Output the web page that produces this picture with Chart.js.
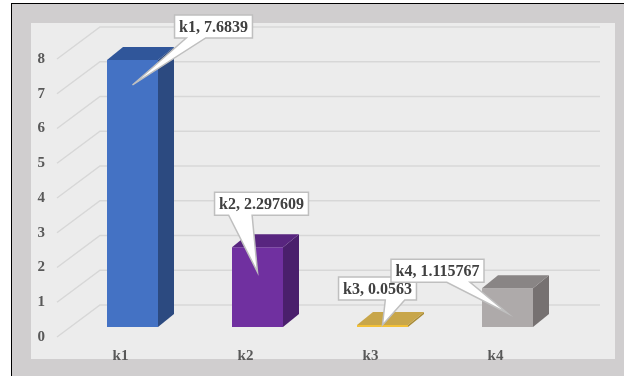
<!DOCTYPE html>
<html>
<head>
<meta charset="utf-8">
<script src="https://cdn.jsdelivr.net/npm/chart.js@4/dist/chart.umd.min.js"></script>
<style>
  html, body { margin: 0; padding: 0; background: #ffffff; }
  #wrap { position: relative; width: 624px; height: 376px; overflow: hidden; }
  #frame { position: absolute; left: 11px; top: 3px; right: 0; bottom: 0;
           background: #d0cecf; border-top: 1px solid #000; border-left: 1px solid #000; }
  #panel { position: absolute; left: 31px; top: 23px; width: 584px; height: 336px; background: #ececec; }
  #chart { position: absolute; left: 0; top: 0; }
</style>
</head>
<body>
<div id="wrap">
  <div id="frame"></div>
  <div id="panel"></div>
  <canvas id="chart" width="624" height="376"></canvas>
</div>
<script>
var categories = ["k1", "k2", "k3", "k4"];
var values = [7.6839, 2.297609, 0.0563, 1.115767];
var yMin = 0, yMax = 8, yStep = 1;

// face colours per bar: front / right side / top
var frontColors = ["#4472c4", "#7030a0", "#f2c037", "#aeaaaa"];
var sideColors  = ["#2c4a80", "#4a1f6c", "#a88a34", "#767171"];
var topColors   = ["#30569a", "#58257f", "#c8a64a", "#898585"];

// callout box placement relative to its pointer tip (box centre x, box bottom y)
var calloutShift = [[81, -47], [4, -57], [-5, -25], [-70, -31]];

var DEPTH_X = 16, DEPTH_Y = 13;      // bar extrusion
var WALL_DX = 0, WALL_DY = -22;      // back wall relative to bar fronts
var FLOOR_DX = -43, FLOOR_DY = 10;   // front floor edge relative to bar fronts
var WALL_LEFT = 100, WALL_RIGHT = 600;

var axisFont = { family: "'Liberation Serif', 'Times New Roman', serif", size: 15, weight: "bold" };

// back wall gridlines plus the diagonal floor/side lines
var wallPlugin = {
  id: "wall3d",
  beforeDatasetsDraw: function (chart) {
    var ctx = chart.ctx, y = chart.scales.y;
    ctx.save();
    ctx.strokeStyle = "#d7d7d7";
    ctx.lineWidth = 1.5;
    y.ticks.forEach(function (t) {
      var py = y.getPixelForValue(t.value) + WALL_DY;
      ctx.beginPath();
      ctx.moveTo(WALL_LEFT + FLOOR_DX, py - WALL_DY + FLOOR_DY);
      ctx.lineTo(WALL_LEFT, py);
      ctx.lineTo(WALL_RIGHT, py);
      ctx.stroke();
    });
    ctx.restore();
  }
};

// side and top faces of each bar
var barsPlugin = {
  id: "bars3d",
  afterDatasetsDraw: function (chart) {
    var ctx = chart.ctx;
    var meta = chart.getDatasetMeta(0);
    ctx.save();
    meta.data.forEach(function (bar, i) {
      var l = bar.x - bar.width / 2, r = bar.x + bar.width / 2;
      var top = bar.y, bot = bar.base;
      ctx.fillStyle = sideColors[i];
      ctx.beginPath();
      ctx.moveTo(r, top);
      ctx.lineTo(r + DEPTH_X, top - DEPTH_Y);
      ctx.lineTo(r + DEPTH_X, bot - DEPTH_Y);
      ctx.lineTo(r, bot);
      ctx.closePath();
      ctx.fill();
      ctx.fillStyle = topColors[i];
      ctx.beginPath();
      ctx.moveTo(l, top);
      ctx.lineTo(l + DEPTH_X, top - DEPTH_Y);
      ctx.lineTo(r + DEPTH_X, top - DEPTH_Y);
      ctx.lineTo(r, top);
      ctx.closePath();
      ctx.fill();
    });
    ctx.restore();
  }
};

// white callout labels "kN, value" with a wedge pointing into the bar
var calloutPlugin = {
  id: "callouts",
  afterDatasetsDraw: function (chart) {
    var ctx = chart.ctx;
    var meta = chart.getDatasetMeta(0);
    ctx.save();
    ctx.font = "bold 16px 'Liberation Serif', 'Times New Roman', serif";
    ctx.textAlign = "center";
    ctx.textBaseline = "middle";
    meta.data.forEach(function (bar, i) {
      var text = categories[i] + ", " + values[i];
      var tipX = bar.x;
      var tipY = Math.min(bar.y + 25, bar.base - 2);
      var w = ctx.measureText(text).width + 9, h = 23;
      var cx = tipX + calloutShift[i][0];
      var bottom = tipY + calloutShift[i][1];
      var left = cx - w / 2, right = cx + w / 2, top = bottom - h;
      var f1, f2;
      if (tipX < cx) { f1 = 0.15; f2 = 0.4; } else { f1 = 0.6; f2 = 0.85; }
      ctx.beginPath();
      ctx.moveTo(left, top);
      ctx.lineTo(right, top);
      ctx.lineTo(right, bottom);
      ctx.lineTo(left + w * f2, bottom);
      ctx.lineTo(tipX, tipY);
      ctx.lineTo(left + w * f1, bottom);
      ctx.lineTo(left, bottom);
      ctx.closePath();
      ctx.fillStyle = "#ffffff";
      ctx.fill();
      ctx.strokeStyle = "#bfbfbf";
      ctx.lineWidth = 1.5;
      ctx.stroke();
      ctx.fillStyle = "#404040";
      ctx.fillText(text, cx, top + h / 2 + 1);
    });
    ctx.restore();
  }
};

new Chart(document.getElementById("chart").getContext("2d"), {
  type: "bar",
  data: {
    labels: categories,
    datasets: [{
      data: values,
      backgroundColor: frontColors,
      barPercentage: 0.408,
      categoryPercentage: 1
    }]
  },
  options: {
    responsive: false,
    animation: false,
    layout: { padding: { left: 0, right: 54, top: 49, bottom: 0 } },
    plugins: { legend: { display: false }, tooltip: { enabled: false } },
    scales: {
      x: {
        grid: { display: false, drawTicks: false },
        border: { display: false },
        ticks: { font: axisFont, color: "#595959", padding: 20, labelOffset: -12 },
        afterFit: function (s) { s.height = 49; }
      },
      y: {
        min: yMin, max: yMax,
        grid: { display: false, drawTicks: false },
        border: { display: false },
        ticks: { stepSize: yStep, font: axisFont, color: "#595959", padding: 25, labelOffset: 10 },
        afterFit: function (s) { s.width = 70; }
      }
    }
  },
  plugins: [wallPlugin, barsPlugin, calloutPlugin]
});
</script>
</body>
</html>
